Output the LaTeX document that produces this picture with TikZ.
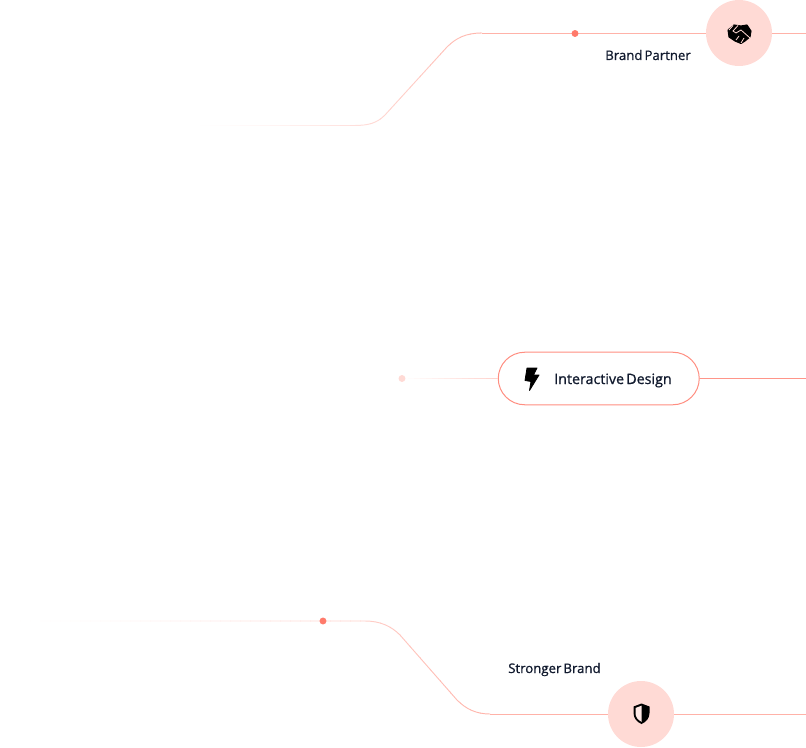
\documentclass[tikz,border=0pt]{standalone}
\usepackage{fontspec}
\setmainfont{Open Sans}[FakeBold=0.9,WordSpace=0.6]
\usepackage{xcolor}
\definecolor{bpcoral}{HTML}{FF7A6B}
\definecolor{bpline}{HTML}{FFB2A8}
\definecolor{bppink}{HTML}{FFDAD5}
\definecolor{bpink}{HTML}{111A2E}

\begin{document}
\begin{tikzpicture}[
  x=0.75pt, y=-0.75pt,
  font=\fontsize{9.9pt}{12pt}\selectfont,
  badge/.style={circle, fill=bppink, minimum size=49.5pt, inner sep=0pt},
  pill/.style={draw=bpcoral!85, line width=0.75pt, rounded corners=19.8pt, fill=white, minimum width=150.75pt, minimum height=39.4pt, inner sep=0pt},
  dot/.style={circle, fill=#1, minimum size=5.2pt, inner sep=0pt},
  lab/.style={text=bpink, inner sep=0pt},
  wire/.style={bpline, line width=0.7pt},
]
\useasboundingbox (0,0) rectangle (806,748);

% hubs
\node[badge] (partner) at (739,33) {};
\node[pill] (design) at (598.75,378.5) {};
\node[badge] (stronger) at (641,714) {};
\coordinate (partnerEnd) at (806,33);
\coordinate (designEnd) at (806,378.5);
\coordinate (strongerEnd) at (806,714);
\coordinate (partnerStart) at (190,125.5);
\coordinate (strongerStart) at (0,621);
\coordinate (partnerBend) at (482,33);
\coordinate (strongerBend) at (490,714);

% fading curves, cut into strips
\foreach \xa [evaluate=\xa as \pct using {100*((\xa-190)/290)^1.5}] in {190,200,...,480} {
  \begin{scope}
    \clip (\xa,0) rectangle (\xa+10.5,140);
    \draw[wire, bpline!\pct!white] (partnerStart) -- (354,125.5) .. controls (369,125.5) and (377,123) .. (385,115)
      -- (447,47) .. controls (456,38) and (466,33) .. (partnerBend);
  \end{scope}
}
\foreach \xa [evaluate=\xa as \pct using {100*(\xa/490)^1.5}] in {0,10,...,490} {
  \begin{scope}
    \clip (\xa,610) rectangle (\xa+10.5,725);
    \draw[wire, bpline!\pct!white] (strongerStart) -- (365,621) .. controls (380,621) and (391,626) .. (400,635)
      -- (457,700) .. controls (466,709) and (476,714) .. (strongerBend);
  \end{scope}
}
\foreach \xa [evaluate=\xa as \pct using {(\xa-402)/1.6}] in {402,408,...,492} {
  \begin{scope}
    \clip (\xa,370) rectangle (\xa+6.5,386);
    \draw[wire, bpline!\pct!white] (402,378.5) -- (design.west);
  \end{scope}
}
\draw[wire] (partnerBend) -- (partner.west);
\draw[wire] (partner.east) -- (partnerEnd);
\draw[wire, bpcoral!80] (design.east) -- (designEnd);
\draw[wire] (strongerBend) -- (stronger.west);
\draw[wire] (stronger.east) -- (strongerEnd);

% markers
\node[dot=bpcoral] (partnerDot) at (575,33.5) {};
\node[dot=bppink] (designDot) at (402,378.5) {};
\node[dot=bpcoral] (strongerDot) at (323,621) {};

% labels
\node[lab, anchor=base west] (partnerLab) at (605,60) {Brand Partner};
\node[lab, anchor=base west, font=\fontsize{10.7pt}{12pt}\selectfont] (designLab) at (554,384) {Interactive Design};
\node[lab, anchor=base west] (strongerLab) at (508,673) {Stronger Brand};

% icons
\fill[black, line join=round, draw=black, line width=0.6pt] (527,368) -- (537,368) -- (533.5,375) -- (539,375) -- (529.5,390.5) -- (531,381.5) -- (525,380.5) -- cycle;
\fill[black] (641.5,703.5) -- (649.5,706.5) -- (649.5,713) .. controls (649.5,718.5) and (646,722) .. (641.5,724) .. controls (637,722) and (633.5,718.5) .. (633.5,713) -- (633.5,706.5) -- cycle;
\fill[bppink!60!white] (641.5,705.7) -- (635.5,708) -- (635.5,713) .. controls (635.5,717) and (638,720) .. (641.5,721.8) -- cycle;
\fill[black, draw=black, line width=0.8pt, line join=round] (728,30) -- (734,25) -- (741,26) -- (747,25) -- (751,31) -- (750,37) -- (745,41) -- (741,43.5) -- (735,41) -- (729,37) -- cycle;
\draw[bppink, line width=0.6pt] (733,25.5) -- (729,30) (738,25.5) -- (733,31) -- (736,33) -- (741,30) -- (750,38) (736,40) -- (739,36) (741,43) -- (744,38);
\end{tikzpicture}
\end{document}
